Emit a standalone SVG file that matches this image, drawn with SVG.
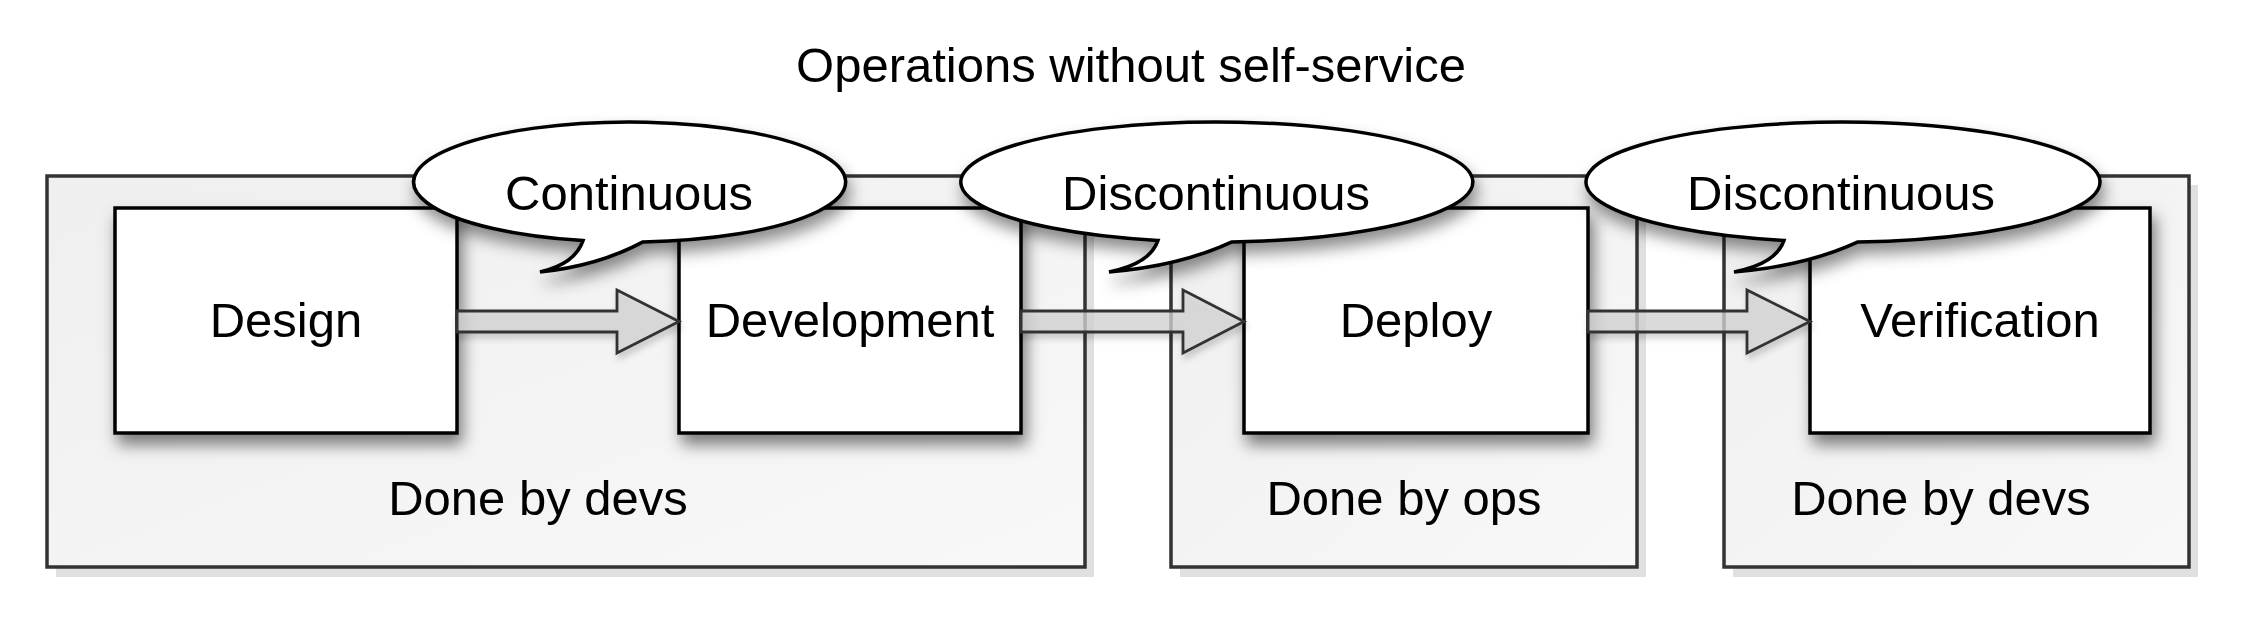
<svg xmlns="http://www.w3.org/2000/svg" width="2245" height="624" viewBox="0 0 2245 624">
<style>
  text { font-family: "Liberation Sans", Arial, Helvetica, sans-serif; font-size: 49px; fill: #000; text-anchor: middle; }
  .outer { fill: url(#outerGrad); stroke: #333; stroke-width: 3.5; }
  .outerShadow { fill: #e0e0e0; stroke: none; }
  .box { fill: #fff; stroke: #000; stroke-width: 3.5; filter: url(#boxShadow); }
  .arrow { fill: #d4d4d4; fill-opacity: 0.75; stroke: #333; stroke-width: 2.8; stroke-linejoin: miter; filter: url(#arrowShadow); }
  .callout { fill: #fff; stroke: #000; stroke-width: 3.5; stroke-linejoin: miter; filter: url(#calloutShadow); }
</style>
<defs>
  <linearGradient id="outerGrad" x1="0" y1="0" x2="1" y2="1">
    <stop offset="0" stop-color="#efefef"/>
    <stop offset="1" stop-color="#f8f8f8"/>
  </linearGradient>
  <filter id="boxShadow" x="-20%" y="-20%" width="140%" height="150%">
    <feDropShadow dx="4" dy="10" stdDeviation="8" flood-color="#000" flood-opacity="0.5"/>
  </filter>
  <filter id="arrowShadow" x="-20%" y="-50%" width="140%" height="200%">
    <feDropShadow dx="2" dy="5" stdDeviation="3" flood-color="#000" flood-opacity="0.2"/>
  </filter>
  <filter id="calloutShadow" x="-20%" y="-30%" width="140%" height="170%">
    <feDropShadow dx="3" dy="10" stdDeviation="8" flood-color="#000" flood-opacity="0.45"/>
  </filter>
</defs>
<rect width="2245" height="624" fill="#fff"/>

<text id="title" x="1131" y="82">Operations without self-service</text>

<g id="container-devs-1">
  <rect class="outerShadow" x="56" y="185" width="1038" height="392"/>
  <rect class="outer" x="47" y="176" width="1038" height="391"/>
  <text x="538" y="515">Done by devs</text>
</g>
<g id="container-ops">
  <rect class="outerShadow" x="1180" y="185" width="466" height="392"/>
  <rect class="outer" x="1171" y="176" width="466" height="391"/>
  <text x="1404" y="515">Done by ops</text>
</g>
<g id="container-devs-2">
  <rect class="outerShadow" x="1733" y="185" width="465" height="392"/>
  <rect class="outer" x="1724" y="176" width="465" height="391"/>
  <text x="1941" y="515">Done by devs</text>
</g>

<g id="node-design">
  <rect class="box" x="115" y="208" width="342" height="225"/>
  <text x="286" y="337">Design</text>
</g>
<g id="node-development">
  <rect class="box" x="679" y="208" width="342" height="225"/>
  <text x="850" y="337">Development</text>
</g>
<g id="node-deploy">
  <rect class="box" x="1244" y="208" width="344" height="225"/>
  <text x="1416" y="337">Deploy</text>
</g>
<g id="node-verification">
  <rect class="box" x="1810" y="208" width="340" height="225"/>
  <text x="1980" y="337">Verification</text>
</g>

<g id="connectors">
  <path class="arrow" d="M457,311 L617,311 L617,290 L679,321.5 L617,353 L617,332 L457,332 Z"/>
  <path class="arrow" d="M1021,311 L1183,311 L1183,290 L1244,321.5 L1183,353 L1183,332 L1021,332 Z"/>
  <path class="arrow" d="M1588,311 L1747,311 L1747,290 L1810,321.5 L1747,353 L1747,332 L1588,332 Z"/>
</g>

<g id="callout-continuous">
  <path class="callout" d="M583,240.6 Q575,264 540,272 Q598,266 643,241.9 A216 60 0 1 0 583,240.6 Z"/>
  <text x="629" y="210">Continuous</text>
</g>
<g id="callout-discontinuous-1">
  <path class="callout" d="M1158,240.4 Q1150,264 1109,272 Q1180,266 1232,241.9 A256 60 0 1 0 1158,240.4 Z"/>
  <text x="1216" y="210">Discontinuous</text>
</g>
<g id="callout-discontinuous-2">
  <path class="callout" d="M1784,240.4 Q1776,264 1734,272 Q1806,266 1858,241.9 A257 60 0 1 0 1784,240.4 Z"/>
  <text x="1841" y="210">Discontinuous</text>
</g>
</svg>
